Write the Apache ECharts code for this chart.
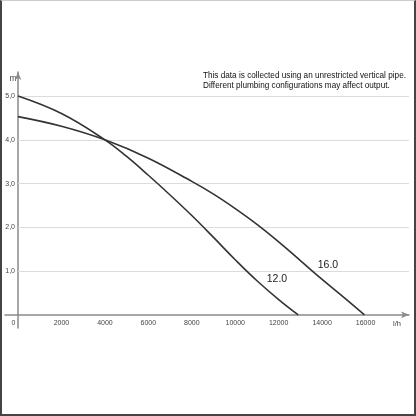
<!DOCTYPE html>
<html>
<head>
<meta charset="utf-8">
<script src="https://cdn.jsdelivr.net/npm/echarts@6/dist/echarts.min.js"></script>
<style>
  html, body { margin: 0; padding: 0; background: #fff; }
  #chart { width: 416px; height: 416px; }
  #frame {
    position: absolute; left: 0; top: 0; width: 416px; height: 416px;
    box-sizing: border-box; pointer-events: none;
    border-left: 2px solid #444; border-right: 2px solid #444;
    border-bottom: 2px solid #444; border-top: 1px solid #ccc;
  }
</style>
</head>
<body>
<div id="chart"></div>
<div id="frame"></div>
<script>
"use strict";
// pump curves, flow in l/h, head in m
var flow12 = [0, 2000, 4000, 5000, 6000, 7000, 8000, 9000, 10000, 11000, 12000, 12900];
var head12 = [5.0, 4.6, 4.0, 3.62, 3.19, 2.74, 2.27, 1.77, 1.26, 0.78, 0.35, 0];
var flow16 = [0, 2000, 4000, 6000, 8000, 9000, 10000, 11000, 12000, 13000, 14000, 15000, 15950];
var head16 = [4.53, 4.31, 4.0, 3.58, 3.05, 2.76, 2.43, 2.07, 1.67, 1.24, 0.81, 0.4, 0];
var xTicks = [0, 2000, 4000, 6000, 8000, 10000, 12000, 14000, 16000];
var yTicks = [1, 2, 3, 4, 5];
var curveNames = ['12.0', '16.0'];
var noteLines = [
    'This data is collected using an unrestricted vertical pipe.',
    'Different plumbing configurations may affect output.'
];

var FONT = '"Liberation Sans", Arial, sans-serif';
var AXIS_COLOR = '#8a8a8a';

function pairs(xs, ys){
    var out = [];
    for (var i = 0; i < xs.length; i++){
        out.push([xs[i], ys[i]]);
    }
    return out;
}

function curveSeries(name, data, labelAt){
    return {
        name: name,
        type: 'line',
        z: 3,
        data: data,
        smooth: 0.4,
        showSymbol: false,
        lineStyle: { color: '#333', width: 1.6 },
        markPoint: {
            symbol: 'circle',
            symbolSize: 0,
            silent: true,
            label: {
                show: true, position: 'inside', formatter: name,
                color: '#1a1a1a', fontSize: 10.5, fontFamily: FONT
            },
            data: [{ coord: labelAt }]
        }
    };
}

var dom = document.getElementById('chart');
var myChart = echarts.init(dom, null, { renderer: 'canvas' });

var option = {
    animation: false,
    backgroundColor: '#fff',
    title: {
        text: noteLines.join('\n'),
        left: 203,
        top: 70,
        padding: 0,
        textStyle: {
            fontFamily: FONT, fontSize: 8.2, fontWeight: 'normal',
            color: '#111', lineHeight: 10.5
        }
    },
    grid: {
        left: 5, right: 7, top: 72, bottom: 88,
        containLabel: false, outerBoundsMode: 'none'
    },
    xAxis: {
        type: 'value',
        min: -600,
        max: 18000,
        name: 'l/h',
        nameLocation: 'end',
        nameGap: -16,
        nameTextStyle: {
            fontFamily: FONT, fontSize: 7.5, color: '#444',
            verticalAlign: 'top', padding: [5, 0, 0, 0]
        },
        axisLine: {
            onZero: true,
            symbol: ['none', 'arrow'],
            symbolSize: [5, 8],
            lineStyle: { color: AXIS_COLOR, width: 1.5 }
        },
        axisTick: { show: false },
        splitLine: { show: false },
        axisLabel: {
            customValues: xTicks,
            margin: -8,
            fontFamily: FONT, fontSize: 7, color: '#444',
            formatter: function(v){
                return v === 0 ? '{z|0}' : String(v);
            },
            rich: {
                z: { fontFamily: FONT, fontSize: 7, color: '#444', padding: [0, 9, 0, 0] }
            }
        }
    },
    yAxis: {
        type: 'value',
        min: -0.3,
        max: 5.55,
        name: 'm',
        nameLocation: 'end',
        nameGap: -11,
        nameTextStyle: { fontFamily: FONT, fontSize: 8.5, color: '#444', padding: [0, 10, 0, 0] },
        axisLine: {
            onZero: true,
            symbol: ['none', 'arrow'],
            symbolSize: [5, 8],
            lineStyle: { color: AXIS_COLOR, width: 1.5 }
        },
        axisTick: { show: false },
        splitLine: { show: false },
        axisLabel: {
            customValues: yTicks,
            margin: -10,
            fontFamily: FONT, fontSize: 7, color: '#444',
            formatter: function(v){
                return v.toFixed(1).replace('.', ',');
            }
        }
    },
    series: [
        {
            // horizontal grid lines, starting at the y axis, kept under the curves
            name: 'grid',
            type: 'line',
            z: 1,
            data: [],
            markLine: {
                z: 1,
                silent: true,
                symbol: ['none', 'none'],
                label: { show: false },
                lineStyle: { color: '#dcdcdc', width: 1, type: 'solid' },
                data: yTicks.map(function(v){
                    return [{ coord: [0, v] }, { coord: [18000, v] }];
                })
            }
        },
        curveSeries(curveNames[0], pairs(flow12, head12), [11920, 0.82]),
        curveSeries(curveNames[1], pairs(flow16, head16), [14270, 1.14])
    ]
};

myChart.setOption(option, true);
</script>
</body>
</html>
